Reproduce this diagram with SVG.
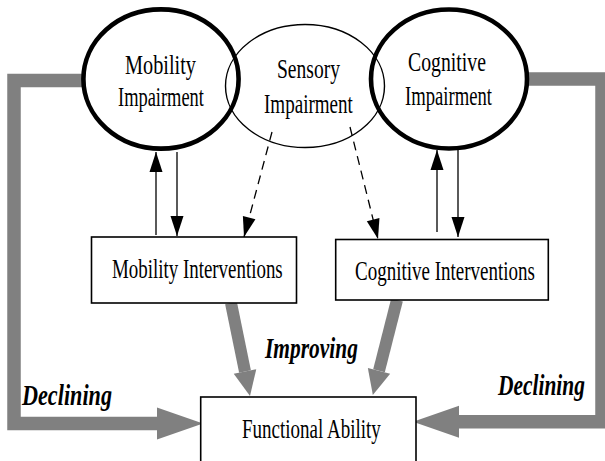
<svg xmlns="http://www.w3.org/2000/svg" width="605" height="461" viewBox="0 0 605 461">
<defs>
<style>
.t{font-family:"Liberation Serif","Times New Roman",serif;font-size:28px;fill:#000}
.bi{font-family:"Liberation Serif","Times New Roman",serif;font-size:30px;font-weight:bold;font-style:italic;fill:#000}
.band{fill:none;stroke:#808080;stroke-width:13.5;stroke-linejoin:miter}
.thick{fill:none;stroke:#808080;stroke-width:12}
.thin{fill:none;stroke:#000;stroke-width:1.3}
.dash{fill:none;stroke:#000;stroke-width:1.3;stroke-dasharray:9 6}
.box{fill:#fff;stroke:#000;stroke-width:1.6}
</style>
<marker id="bigHead" markerUnits="userSpaceOnUse" markerWidth="46" markerHeight="32" refX="0" refY="16" orient="auto" overflow="visible">
<path d="M0,0 L46,16 L0,32 Z" fill="#808080"/>
</marker>
<marker id="midHead" markerUnits="userSpaceOnUse" markerWidth="25" markerHeight="23" refX="0" refY="11.5" orient="auto" overflow="visible">
<path d="M0,0 L25,11.5 L0,23 Z" fill="#808080"/>
</marker>
<marker id="blackHead" markerUnits="userSpaceOnUse" markerWidth="20" markerHeight="13" refX="20" refY="6.5" orient="auto" overflow="visible">
<path d="M0,0 L20,6.5 L0,13 Z" fill="#000"/>
</marker>
</defs>
<rect width="605" height="461" fill="#fff"/>

<g id="connectors">
<path class="band" d="M84,80.5 H14 V423.5 H157" marker-end="url(#bigHead)"/>
<path class="band" d="M526,79 H602 V421.7 H459" marker-end="url(#bigHead)"/>
<path class="thick" d="M231,303 L245,371.5" marker-end="url(#midHead)"/>
<path class="thick" d="M397,300 L379,370.8" marker-end="url(#midHead)"/>
<path class="thin" d="M156,235 V152" marker-end="url(#blackHead)"/>
<path class="thin" d="M177,152 V236" marker-end="url(#blackHead)"/>
<path class="thin" d="M437,232 V150" marker-end="url(#blackHead)"/>
<path class="thin" d="M458,150 V237" marker-end="url(#blackHead)"/>
<path class="dash" d="M272,132 L244,237" marker-end="url(#blackHead)"/>
<path class="dash" d="M350,127 L378,239" marker-end="url(#blackHead)"/>
</g>

<g id="sensory">
<ellipse cx="305" cy="86" rx="79.5" ry="61.5" fill="none" stroke="#000" stroke-width="1.4"/>
<text class="t" transform="translate(277,78) scale(0.698,1)">Sensory</text>
<text class="t" transform="translate(264,113) scale(0.681,1)">Impairment</text>
</g>

<g id="mobility">
<ellipse cx="161" cy="79" rx="77.6" ry="69.6" fill="none" stroke="#000" stroke-width="4.6"/>
<text class="t" transform="translate(125,74) scale(0.724,1)">Mobility</text>
<text class="t" transform="translate(118,106) scale(0.658,1)">Impairment</text>
</g>

<g id="cognitive">
<ellipse cx="449" cy="79" rx="78" ry="69.5" fill="none" stroke="#000" stroke-width="4.6"/>
<text class="t" transform="translate(408,71) scale(0.706,1)">Cognitive</text>
<text class="t" transform="translate(405,105) scale(0.666,1)">Impairment</text>
</g>

<g id="mobilityInterventions">
<rect class="box" x="91.5" y="237" width="205" height="66"/>
<text class="t" transform="translate(112,278) scale(0.676,1)">Mobility Interventions</text>
</g>

<g id="cognitiveInterventions">
<rect class="box" x="335.7" y="239.5" width="212.6" height="60.5"/>
<text class="t" transform="translate(355,280) scale(0.679,1)">Cognitive Interventions</text>
</g>

<g id="functional">
<rect class="box" x="200.7" y="397" width="215.3" height="80"/>
<text class="t" transform="translate(242,438) scale(0.679,1)">Functional Ability</text>
</g>

<g id="labels">
<text class="bi" transform="translate(265,358) scale(0.715,1)">Improving</text>
<text class="bi" transform="translate(22,405) scale(0.74,1)">Declining</text>
<text class="bi" transform="translate(498,395) scale(0.715,1)">Declining</text>
</g>
</svg>
